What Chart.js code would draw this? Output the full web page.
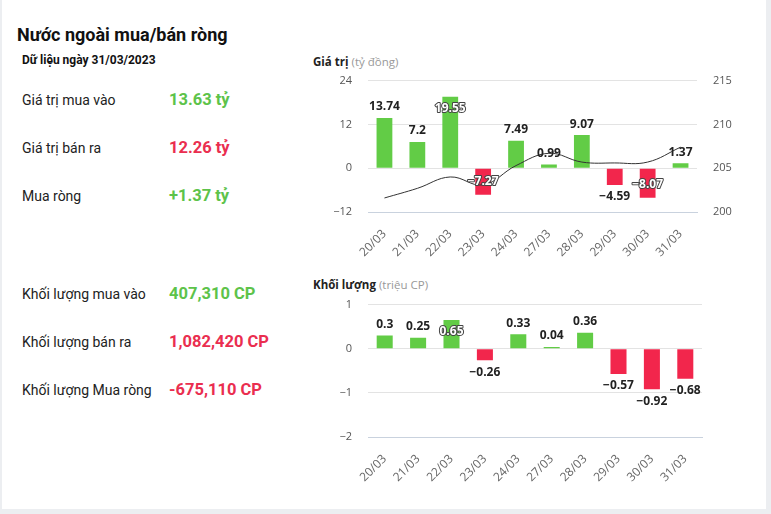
<!DOCTYPE html>
<html>
<head>
<meta charset="utf-8">
<script src="https://cdn.jsdelivr.net/npm/chart.js@4"></script>
<style>
body{margin:0;background:#eceef1;font-family:Roboto,sans-serif;}
#box{position:absolute;left:2px;top:0;width:764px;height:509px;background:#fff;}
.t{position:absolute;white-space:nowrap;color:#222;}
.title{font-size:18px;font-weight:bold;color:#111;}
.sub{font-size:12px;font-weight:bold;color:#111;}
.lbl{font-size:14px;}
.val{font-size:16.5px;font-weight:bold;}
.g{color:#5dc34a;}
.r{color:#ea2e4f;}
.ct{font-family:"Open Sans",sans-serif;font-size:11.5px;font-weight:bold;color:#222;}
.ct span{font-weight:normal;color:#999;}
canvas{position:absolute;}
</style>
</head>
<body>
<div id="box">
<div class="t title" style="left:15px;top:24px">Nước ngoài mua/bán ròng</div>
<div class="t sub" style="left:20px;top:53px">Dữ liệu ngày 31/03/2023</div>
<div class="t lbl" style="left:20px;top:92px">Giá trị mua vào</div>
<div class="t val g" style="left:167px;top:90px">13.63 tỷ</div>
<div class="t lbl" style="left:20px;top:140px">Giá trị bán ra</div>
<div class="t val r" style="left:167px;top:138px">12.26 tỷ</div>
<div class="t lbl" style="left:20px;top:188px">Mua ròng</div>
<div class="t val g" style="left:167px;top:186px">+1.37 tỷ</div>
<div class="t lbl" style="left:20px;top:286px">Khối lượng mua vào</div>
<div class="t val g" style="left:167px;top:284px">407,310 CP</div>
<div class="t lbl" style="left:20px;top:334px">Khối lượng bán ra</div>
<div class="t val r" style="left:167px;top:332px">1,082,420 CP</div>
<div class="t lbl" style="left:20px;top:382px">Khối lượng Mua ròng</div>
<div class="t val r" style="left:167px;top:380px">-675,110 CP</div>
<div class="t ct" style="left:311px;top:54px">Giá trị <span>(tỷ đồng)</span></div>
<div class="t ct" style="left:311px;top:277px">Khối lượng <span>(triệu CP)</span></div>
<canvas id="c1" width="460" height="207" style="left:298px;top:58px;width:460px;height:207px"></canvas>
<canvas id="c2" width="460" height="213" style="left:298px;top:282px;width:460px;height:213px"></canvas>
</div>
<script>
const dates = ['20/03','21/03','22/03','23/03','24/03','27/03','28/03','29/03','30/03','31/03'];
const netValue = [13.74, 7.2, 19.55, -7.27, 7.49, 0.99, 9.07, -4.59, -8.07, 1.37];
const indexLine = [201.6, 202.7, 204.0, 203.1, 205.3, 206.7, 205.7, 205.6, 205.7, 207.4];
const netVolume = [0.3, 0.25, 0.65, -0.26, 0.33, 0.04, 0.36, -0.57, -0.92, -0.68];

const GREEN = '#62cc46', RED = '#f2264c';
const minus = v => String(v).replace('-', '\u2212');

const barLabels = {
  id: 'barLabels',
  afterDatasetsDraw(chart) {
    const ctx = chart.ctx, area = chart.chartArea;
    const meta = chart.getDatasetMeta(0);
    const data = chart.data.datasets[0].data;
    ctx.save();
    ctx.font = 'bold 12px "Open Sans"';
    ctx.textAlign = 'center';
    ctx.textBaseline = 'middle';
    meta.data.forEach((bar, i) => {
      const v = data[i];
      const txt = minus(v);
      let y = v >= 0 ? bar.y - 11 : bar.y + 12;
      if (y - 7 < area.top || y + 7 > area.bottom) {
        // no room outside the bar: put it inside, outlined
        y = v >= 0 ? bar.y + 12 : bar.y - 13;
        ctx.lineWidth = 2;
        ctx.strokeStyle = '#444';
        ctx.lineJoin = 'round';
        ctx.strokeText(txt, bar.x, y);
        ctx.fillStyle = '#fff';
      } else {
        ctx.fillStyle = '#222';
      }
      ctx.fillText(txt, bar.x, y);
    });
    ctx.restore();
  }
};

Chart.defaults.font.family = 'Open Sans';
Chart.defaults.font.size = 11;
Chart.defaults.color = '#555';

const xAxis = {
  grid: {display: false},
  border: {color: '#c9d2de'},
  ticks: {minRotation: 45, maxRotation: 45, padding: 7, color: '#666', font: {size: 12}}
};

new Chart(document.getElementById('c1'), {
  type: 'bar',
  data: {
    labels: dates,
    datasets: [{
      data: netValue,
      backgroundColor: netValue.map(v => v >= 0 ? GREEN : RED),
      barPercentage: 0.6,
      categoryPercentage: 0.8,
      order: 2
    }, {
      type: 'line',
      data: indexLine,
      yAxisID: 'y1',
      borderColor: '#333',
      borderWidth: 1,
      pointRadius: 0,
      tension: 0.4,
      order: 1
    }]
  },
  options: {
    responsive: false,
    animation: false,
    layout: {padding: {top: 10}},
    plugins: {legend: {display: false}, tooltip: {enabled: false}},
    scales: {
      x: Object.assign({}, xAxis, {afterFit: s => { s.height = 53; }}),
      y: {
        min: -12, max: 24,
        ticks: {stepSize: 12, padding: 16, callback: v => minus(v)},
        grid: {color: '#e3e3e3', drawTicks: false},
        border: {display: false},
        afterFit: s => { s.width = 68; }
      },
      y1: {
        position: 'right',
        min: 200, max: 215,
        ticks: {stepSize: 5, padding: 16},
        grid: {display: false, drawTicks: false},
        border: {display: false},
        afterFit: s => { s.width = 63; }
      }
    }
  },
  plugins: [barLabels]
});

new Chart(document.getElementById('c2'), {
  type: 'bar',
  data: {
    labels: dates,
    datasets: [{
      data: netVolume,
      backgroundColor: netVolume.map(v => v >= 0 ? GREEN : RED),
      barPercentage: 0.6,
      categoryPercentage: 0.8
    }]
  },
  options: {
    responsive: false,
    animation: false,
    layout: {padding: {top: 10, right: 58}},
    plugins: {legend: {display: false}, tooltip: {enabled: false}},
    scales: {
      x: Object.assign({}, xAxis, {afterFit: s => { s.height = 58; }}),
      y: {
        min: -2, max: 1,
        ticks: {stepSize: 1, padding: 16, callback: v => minus(v)},
        grid: {color: '#e3e3e3', drawTicks: false},
        border: {display: false},
        afterFit: s => { s.width = 68; }
      }
    }
  },
  plugins: [barLabels]
});
</script>
</body>
</html>
